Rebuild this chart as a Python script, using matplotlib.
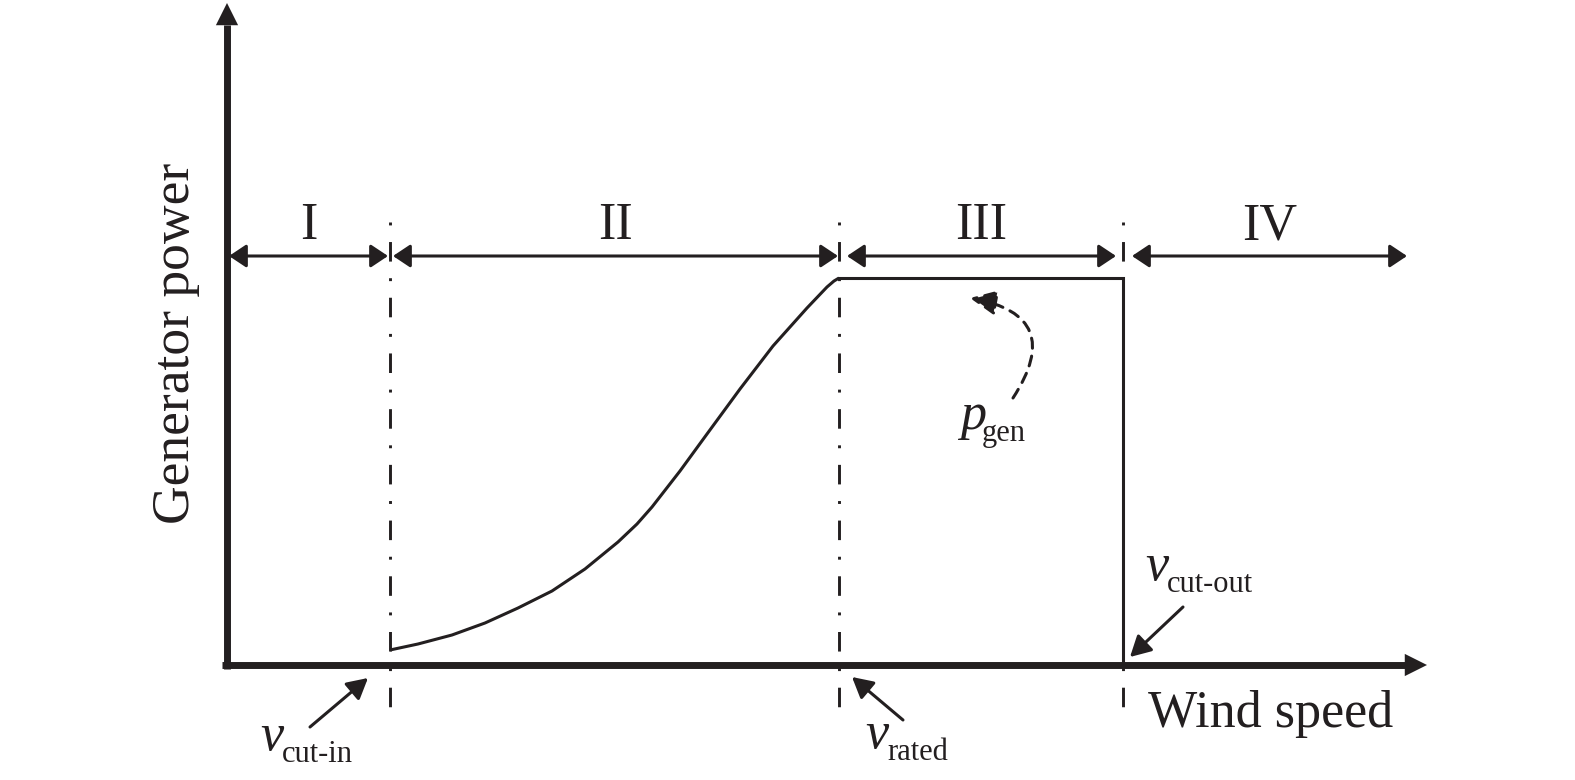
import matplotlib.pyplot as plt
from matplotlib.patches import FancyArrowPatch

plt.rcParams['font.family'] = ['Liberation Serif', 'DejaVu Serif']
INK = '#231f20'

# schematic units, origin at the corner of the axes
v_cut_in = 163
v_rated = 612
v_cut_out = 896
p_rated = 387
v_end = 1180

# region II power curve
curve_v = [163, 191, 225, 258, 291, 325, 358, 391, 410, 425, 453, 480, 513, 546, 580, 600, 607, 612]
curve_p = [15, 21, 30, 42, 57, 74, 96, 123, 141, 158, 194, 231, 276, 319, 357, 378, 384, 387]

regions = ['I', 'II', 'III', 'IV']
region_lo_gap = [2, 3, 8, 9]
region_hi_gap = [2, 1, 7, 0]

fig = plt.figure(figsize=(15.75, 7.8), dpi=100)
ax = fig.add_axes([0, 0, 1, 1])
ax.set_xlim(-227, 1348)
ax.set_ylim(-115, 665)
ax.axis('off')


def arrow(p0, p1, lw, hl, hw, style='-|>', **kw):
    a = FancyArrowPatch(p0, p1, arrowstyle=f'{style},head_length={hl},head_width={hw}',
                        mutation_scale=1, lw=lw, color=INK, shrinkA=0, shrinkB=0, **kw)
    ax.add_patch(a)


# axes with arrow heads
ax.plot([0, 0], [-4, 640], color=INK, lw=5, solid_capstyle='butt')
arrow((0, 630), (0, 662), 0, 16, 8)
ax.plot([-5, 1180], [0, 0], color=INK, lw=5, solid_capstyle='butt')
arrow((1170, 0), (1200, 0), 0, 16, 8)

# boundaries between regions
for v in [v_cut_in, v_rated, v_cut_out]:
    ax.plot([v, v], [443, -55], color=INK, lw=2.1, linestyle=(0, (1, 5.7, 6.7, 5.7)))

# power curve
ax.plot(curve_v, curve_p, color=INK, lw=2.2, solid_capstyle='butt', solid_joinstyle='round')
ax.plot([v_rated, v_cut_out, v_cut_out], [p_rated, p_rated, 0], color=INK, lw=2.2,
        solid_joinstyle='miter')

# region arrows and labels
edges = [0, v_cut_in, v_rated, v_cut_out, v_end]
y_reg = 409
for i, name in enumerate(regions):
    lo = edges[i] + region_lo_gap[i]
    hi = edges[i + 1] - region_hi_gap[i]
    arrow((lo, y_reg), (hi, y_reg), 2.2, 10.5, 7, style='<|-|>')
    ax.text((lo + hi) / 2, 426, name, fontsize=37.5, ha='center', va='baseline', color=INK)

# axis titles
ax.text(-51, 322, 'Generator power', fontsize=38.5, rotation=90, ha='center', va='center',
        color=INK)
ax.text(921, -62, 'Wind speed', fontsize=37.5, ha='left', va='baseline', color=INK)


def sub_label(x, y, main, sub):
    ax.text(x, y, main, fontsize=37.5, style='italic', ha='left', va='baseline', color=INK)
    ax.text(x + 22, y - 12, sub, fontsize=22, ha='left', va='baseline', color=INK)


sub_label(33, -85, 'v', 'cut-in')
sub_label(638, -83, 'v', 'rated')
sub_label(918, 85, 'v', 'cut-out')
sub_label(733, 236, 'p', 'gen')

# pointer arrows
arrow((83, -62), (141, -13), 2.2, 12.5, 6.8)
arrow((676, -55), (625, -12), 2.2, 12.5, 6.8)
arrow((956, 58), (903, 8), 2.2, 12.5, 6.8)
arrow((786, 267), (743, 367), 2.2, 16, 7.5, linestyle=(0, (3.3, 2.6)),
      connectionstyle='arc3,rad=0.75')

fig.savefig('out.png', dpi=100)
